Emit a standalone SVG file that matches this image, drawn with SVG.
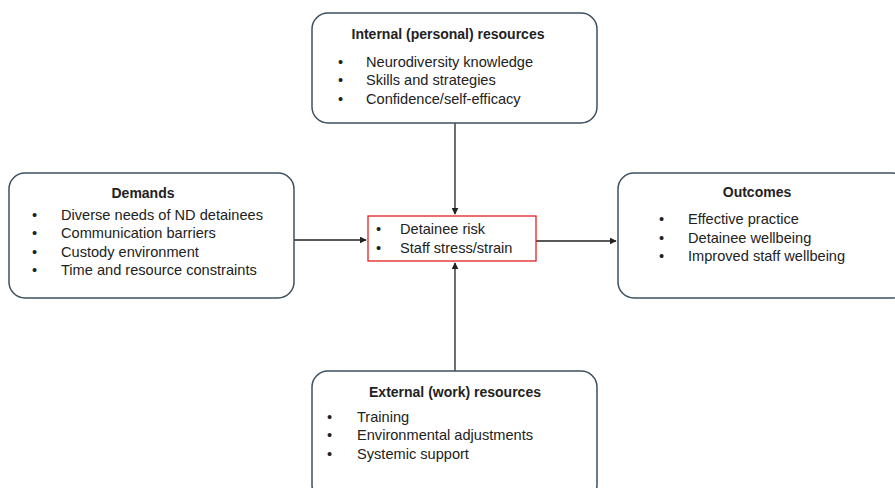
<svg xmlns="http://www.w3.org/2000/svg" width="895" height="488" viewBox="0 0 895 488">
<style>
.box{fill:#fff;stroke:#3b5061;stroke-width:1.5}
.t{font-family:"Liberation Sans",Arial,sans-serif;font-size:14.6px;fill:#222}
.h{font-weight:bold;text-anchor:middle;font-size:14px}
.c{stroke:#222;stroke-width:1.3;fill:none;marker-end:url(#a)}
</style>
<defs>
<marker id="a" viewBox="0 0 10 10" refX="9" refY="5" markerWidth="7" markerHeight="7" markerUnits="userSpaceOnUse" orient="auto"><path d="M0,0L10,5L0,10z" fill="#222"/></marker>
</defs>
<rect width="895" height="488" fill="#fff"/>
<g id="connectors">
<line class="c" x1="455" y1="123" x2="455" y2="214"/>
<line class="c" x1="455" y1="371" x2="455" y2="263"/>
<line class="c" x1="294" y1="240" x2="366" y2="240"/>
<line class="c" x1="536" y1="241" x2="616" y2="241"/>
</g>
<g id="internal">
<rect class="box" x="312" y="13" width="285" height="110" rx="16"/>
<text class="t h" x="448" y="39">Internal (personal) resources</text>
<text class="t" x="338" y="67">•</text><text class="t" x="366" y="67">Neurodiversity knowledge</text>
<text class="t" x="338" y="85">•</text><text class="t" x="366" y="85">Skills and strategies</text>
<text class="t" x="338" y="104">•</text><text class="t" x="366" y="104">Confidence/self-efficacy</text>
</g>
<g id="demands">
<rect class="box" x="9" y="173" width="285" height="125" rx="16"/>
<text class="t h" x="143" y="198">Demands</text>
<text class="t" x="32" y="220">•</text><text class="t" x="61" y="220">Diverse needs of ND detainees</text>
<text class="t" x="32" y="238">•</text><text class="t" x="61" y="238">Communication barriers</text>
<text class="t" x="32" y="257">•</text><text class="t" x="61" y="257">Custody environment</text>
<text class="t" x="32" y="275">•</text><text class="t" x="61" y="275">Time and resource constraints</text>
</g>
<g id="center">
<rect x="368" y="216" width="168" height="45" fill="#fff" stroke="#e02020" stroke-width="1.3"/>
<text class="t" x="376" y="234">•</text><text class="t" x="400" y="234">Detainee risk</text>
<text class="t" x="376" y="253">•</text><text class="t" x="400" y="253">Staff stress/strain</text>
</g>
<g id="outcomes">
<rect class="box" x="618" y="173" width="290" height="125" rx="16"/>
<text class="t h" x="757" y="197">Outcomes</text>
<text class="t" x="659" y="224">•</text><text class="t" x="688" y="224">Effective practice</text>
<text class="t" x="659" y="243">•</text><text class="t" x="688" y="243">Detainee wellbeing</text>
<text class="t" x="659" y="261">•</text><text class="t" x="688" y="261">Improved staff wellbeing</text>
</g>
<g id="external">
<rect class="box" x="312" y="371" width="285" height="130" rx="16"/>
<text class="t h" x="455" y="397">External (work) resources</text>
<text class="t" x="327" y="422">•</text><text class="t" x="357" y="422">Training</text>
<text class="t" x="327" y="440">•</text><text class="t" x="357" y="440">Environmental adjustments</text>
<text class="t" x="327" y="459">•</text><text class="t" x="357" y="459">Systemic support</text>
</g>
</svg>
